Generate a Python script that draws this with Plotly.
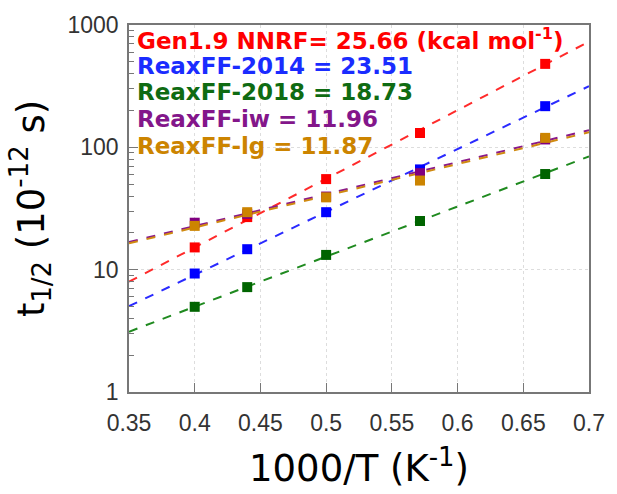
import numpy as np
import plotly.graph_objects as go

# Inverse temperature (1000/T, K^-1) for T = 2500, 2273, 2000, 1750, 1500 K
temps = [2500, 2273, 2000, 1750, 1500]
inv_t = [1000.0 / t for t in temps]

# Half-lives t_1/2 (10^-12 s) for each model
gen19 = [15.2, 26.9, 55.0, 131.0, 481.0]
reax2014 = [9.3, 14.7, 29.5, 66.0, 217.0]
reax2018 = [4.97, 7.2, 13.2, 25.0, 60.5]
reax_iw = [24.2, 28.6, 39.6, 61.5, 116.0]
reax_lg = [22.8, 29.5, 39.0, 53.5, 119.5]

# Activation energies (kcal/mol) of the Arrhenius fits
names = ["Gen1.9 NNRF", "ReaxFF-2014", "ReaxFF-2018", "ReaxFF-iw", "ReaxFF-lg"]
energies = [25.66, 23.51, 18.73, 11.96, 11.87]
series = [gen19, reax2014, reax2018, reax_iw, reax_lg]

marker_colors = ["#ff0000", "#0000ff", "#006400", "#800080", "#cc8400"]
line_colors = ["#ff2a2a", "#2a2aff", "#1f8a1f", "#8a1a8a", "#d08a10"]
text_colors = ["#ff0000", "#1a2cff", "#0f6b12", "#83168a", "#cc8400"]

R_KCAL = 1.98720e-3  # kcal/(mol K)
x_range = [0.35, 0.7]

fig = go.Figure()

# Dashed Arrhenius lines: slope fixed by Ea, intercept fitted to the points
for vals, ea, lc in zip(series, energies, line_colors):
    slope = ea / (R_KCAL * 1000.0)
    xs = np.array(inv_t)
    ln_a = np.mean(np.log(vals) - slope * xs)
    xl = np.array(x_range)
    fig.add_trace(go.Scatter(
        x=xl, y=np.exp(ln_a + slope * xl), mode="lines",
        line=dict(color=lc, width=2, dash="9px,9px"),
        hoverinfo="skip", showlegend=False,
    ))

for vals, mc, nm in zip(series, marker_colors, names):
    fig.add_trace(go.Scatter(
        x=inv_t, y=vals, mode="markers", name=nm,
        marker=dict(symbol="square", size=10, color=mc, line=dict(width=0)),
        showlegend=False,
    ))

# Coloured text legend with the activation energies
label_y_px = [35, 63, 90, 117, 145]
plot_top, plot_bottom = 21, 397
for i, (nm, ea, tc) in enumerate(zip(names, energies, text_colors)):
    if i == 0:
        txt = f"{nm}= {ea:.2f} (kcal mol<sup>-1</sup>)"
    else:
        txt = f"{nm} = {ea:.2f}"
    fig.add_annotation(
        x=0.012, y=(plot_bottom - label_y_px[i]) / (plot_bottom - plot_top),
        xref="paper", yref="paper", xanchor="left", yanchor="middle",
        text=f"<b>{txt}</b>", showarrow=False,
        font=dict(family="DejaVu Sans", size=23, color=tc),
    )

axis_common = dict(
    showline=True, linecolor="#777777", linewidth=1.5, mirror=True,
    ticks="inside", tickcolor="#777777", tickwidth=1,
    showgrid=True, gridcolor="#dddddd", griddash="dot", gridwidth=1,
    zeroline=False,
    tickfont=dict(family="Liberation Sans", size=23, color="#333333"),
)

fig.update_xaxes(
    range=x_range, tickvals=[0.35, 0.4, 0.45, 0.5, 0.55, 0.6, 0.65, 0.7],
    ticktext=["0.35", "0.4", "0.45", "0.5", "0.55", "0.6", "0.65", "0.7"],
    ticklen=9, ticklabelstandoff=10,
    title=dict(text="1000/T (K<sup>-1</sup>)",
               font=dict(family="DejaVu Sans", size=37, color="#000000"),
               standoff=20),
    **axis_common,
)
fig.update_yaxes(
    type="log", range=[0, 3], tickvals=[1, 10, 100, 1000],
    ticktext=["1", "10", "100", "1000"], ticklen=9, ticklabelstandoff=4,
    minor=dict(ticks="inside", ticklen=5, tickcolor="#777777", dtick="D1",
               showgrid=False),
    title=dict(text="t<sub>1/2</sub> (10<sup>-12</sup> s)",
               font=dict(family="DejaVu Sans", size=37, color="#000000"),
               standoff=12),
    **axis_common,
)

fig.update_layout(
    width=617, height=494,
    margin=dict(l=129, r=22, t=21, b=97),
    paper_bgcolor="white", plot_bgcolor="white",
    showlegend=False,
)

fig.write_html("out.html")
